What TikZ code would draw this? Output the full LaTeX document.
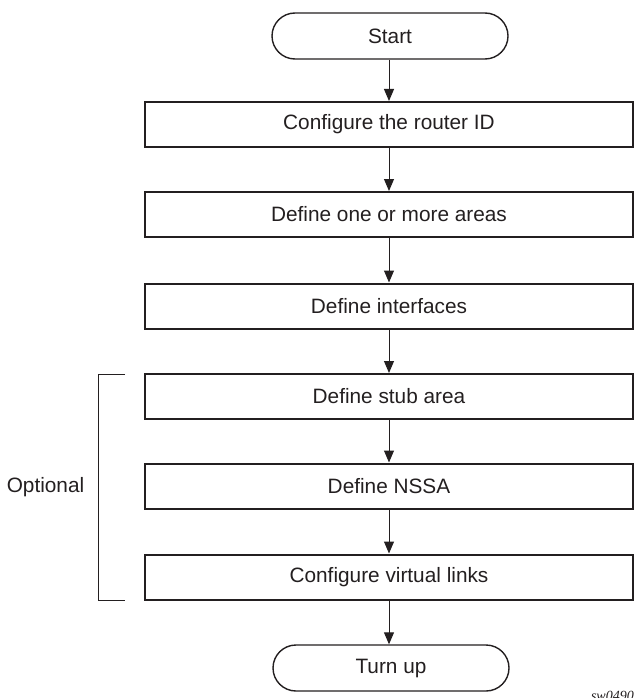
\documentclass[tikz,border=0pt]{standalone}
\usepackage{fontspec}
\setmainfont{Liberation Sans}
\newfontfamily\tagfont{Liberation Serif}
\usetikzlibrary{arrows.meta,shapes.misc}
\definecolor{ink}{HTML}{231F20}
\begin{document}
\begin{tikzpicture}[x=1pt,y=-1pt,
  every node/.style={font=\fontsize{20.8}{24}\selectfont, text=ink},
  stepbox/.style={draw=ink, line width=2pt, minimum width=488pt, minimum height=45pt, inner sep=0pt},
  termbox/.style={draw=ink, line width=1.4pt, rounded rectangle, minimum width=236pt, minimum height=46pt, inner sep=0pt},
  flow/.style={draw=ink, line width=1pt, -{Triangle[length=12pt,width=10pt]}},
  bracket/.style={draw=ink, line width=1pt}]
\useasboundingbox (0,0) rectangle (634,698);

\node[termbox] (start) at (390,36) {Start};
\node[stepbox] (rid)  at (389,124.5) {Configure the router ID};
\node[stepbox] (area) at (389,214.5) {Define one or more areas};
\node[stepbox] (intf) at (389,306) {Define interfaces};
\node[stepbox] (stub) at (389,396.5) {Define stub area};
\node[stepbox] (nssa) at (389,486) {Define NSSA};
\node[stepbox] (vlnk) at (389,577) {Configure virtual links};
\node[termbox] (up)   at (391,668) {Turn up};

\draw[flow] (start.south -| rid.north) -- (rid.north);
\draw[flow] (rid) -- (area);
\draw[flow] (area) -- (intf);
\draw[flow] (intf) -- (stub);
\draw[flow] (stub) -- (nssa);
\draw[flow] (nssa) -- (vlnk);
\draw[flow] (vlnk.south) -- (vlnk.south |- up.north);

% bracket marking the optional steps
\coordinate (btop) at (125,374);
\coordinate (bbot) at (125,600);
\draw[bracket] (btop) -- (98,374) -- (98,600) -- (bbot);
\node (opt) at (45.5,487) {Optional};

\node[font=\tagfont\itshape\fontsize{14}{16}\selectfont, anchor=north east, inner sep=0pt] (tag) at (634,691) {sw0490};
\end{tikzpicture}
\end{document}
